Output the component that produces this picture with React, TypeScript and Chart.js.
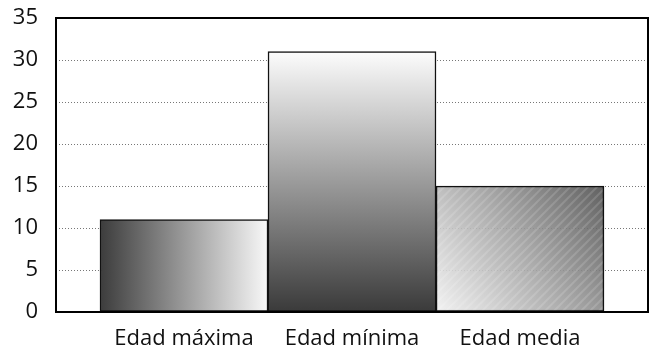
import React, { useEffect, useRef } from "react";
import { Chart, registerables } from "chart.js";

Chart.register(...registerables);

// Category names, bar values and axis ticks
const categories = ["Edad máxima", "Edad mínima", "Edad media"];
const values = [11, 31, 15];
const yTicks = [0, 5, 10, 15, 20, 25, 30, 35];

const FONT = "'Open Sans', 'DejaVu Sans', sans-serif";

// Rectangle of bar i in canvas pixels, computed through the chart's scales
function barRect(chart: any, i: number) {
  const xs = chart.scales.x;
  const ys = chart.scales.y;
  const half = (xs.getPixelForValue(1) - xs.getPixelForValue(0)) / 2;
  const cx = xs.getPixelForValue(i);
  return {
    left: cx - half,
    right: cx + half,
    top: ys.getPixelForValue(values[i]),
    bottom: ys.getPixelForValue(0),
  };
}

// Diagonal gradient with fine light stripes, painted into an offscreen canvas
function stripedFill(chart: any, r: any) {
  const off = document.createElement("canvas");
  off.width = chart.width;
  off.height = chart.height;
  const c = off.getContext("2d")!;
  c.save();
  c.beginPath();
  c.rect(r.left, r.top, r.right - r.left, r.bottom - r.top);
  c.clip();
  c.globalAlpha = 0.9;
  const g = c.createLinearGradient(r.left, r.bottom, r.right, r.top);
  g.addColorStop(0, "#f2f2f2");
  g.addColorStop(0.5, "#a4a4a4");
  g.addColorStop(1, "#505050");
  c.fillStyle = g;
  c.fillRect(r.left, r.top, r.right - r.left, r.bottom - r.top);
  c.globalAlpha = 0.14;
  c.strokeStyle = "#ffffff";
  c.lineWidth = 2;
  const h = r.bottom - r.top;
  for (let x = r.left - h; x < r.right + h; x += 9) {
    c.beginPath();
    c.moveTo(x, r.bottom);
    c.lineTo(x + h, r.top);
    c.stroke();
  }
  c.restore();
  return chart.ctx.createPattern(off, "no-repeat");
}

function barFill(ctx: any) {
  const chart = ctx.chart;
  if (!chart.chartArea || !chart.scales.x) return "#888";
  const i = ctx.dataIndex;
  const r = barRect(chart, i);
  const c = chart.ctx;
  if (i === 0) {
    const g = c.createLinearGradient(r.left, 0, r.right, 0);
    g.addColorStop(0, "#3c3c3c");
    g.addColorStop(1, "#f8f8f8");
    return g;
  }
  if (i === 1) {
    const g = c.createLinearGradient(0, r.top, 0, r.bottom);
    g.addColorStop(0, "#fcfcfc");
    g.addColorStop(1, "#3a3a3a");
    return g;
  }
  return stripedFill(chart, r);
}

// Black frame around the plot area
const framePlugin = {
  id: "frame",
  afterDatasetsDraw(chart: any) {
    const { left, top, right, bottom } = chart.chartArea;
    const c = chart.ctx;
    c.save();
    c.strokeStyle = "#000";
    c.lineWidth = 2;
    c.strokeRect(left, top, right - left, bottom - top);
    c.restore();
  },
};

export default function App() {
  const ref = useRef<HTMLCanvasElement>(null);

  useEffect(() => {
    const chart = new Chart(ref.current!, {
      type: "bar",
      data: {
        datasets: [
          {
            data: values.map((v, i) => ({ x: i, y: v })),
            backgroundColor: barFill,
            borderColor: "#111",
            borderWidth: 1.5,
            borderSkipped: false,
            barPercentage: 1,
            categoryPercentage: 1,
          },
        ],
      },
      options: {
        responsive: false,
        animation: false,
        layout: { padding: { top: 18, right: 1, left: 0, bottom: 0 } },
        plugins: { legend: { display: false }, tooltip: { enabled: false } },
        scales: {
          x: {
            type: "linear",
            offset: false,
            min: -0.762,
            max: 2.762,
            grid: { display: false, drawTicks: false },
            border: { display: false },
            afterBuildTicks: (s: any) => {
              s.ticks = categories.map((_, i) => ({ value: i }));
            },
            afterFit: (s: any) => {
              s.height = 38;
              s.paddingLeft = 0;
              s.paddingRight = 0;
            },
            ticks: {
              padding: 14,
              color: "#111",
              maxRotation: 0,
              autoSkip: false,
              font: { family: FONT, size: 22 },
              callback: (v: any) => categories[v] ?? "",
            },
          },
          y: {
            min: 0,
            max: 35,
            grid: { color: "#777", drawTicks: false, lineWidth: 1 },
            border: { display: false, dash: [1, 2] },
            afterBuildTicks: (s: any) => {
              s.ticks = yTicks.map((v) => ({ value: v }));
            },
            afterFit: (s: any) => {
              s.width = 56;
              s.paddingTop = 0;
              s.paddingBottom = 0;
            },
            ticks: {
              padding: 18,
              color: "#111",
              font: { family: FONT, size: 22 },
            },
          },
        },
      },
      plugins: [framePlugin],
    });
    return () => chart.destroy();
  }, []);

  return (
    <div style={{ position: "absolute", left: 0, top: 0, background: "#fff" }}>
      <canvas ref={ref} width={649} height={350} />
    </div>
  );
}
